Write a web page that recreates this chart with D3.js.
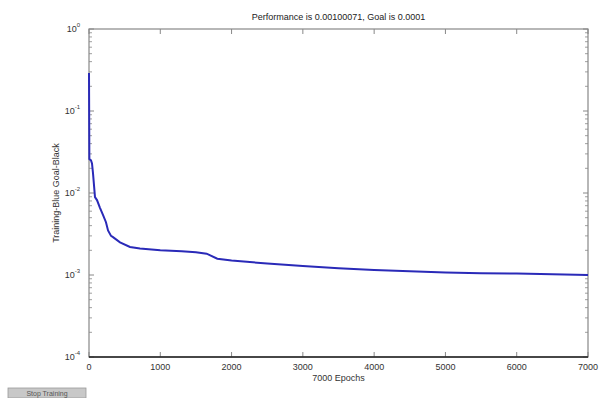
<!DOCTYPE html>
<html>
<head>
<meta charset="utf-8">
<script src="https://cdn.jsdelivr.net/npm/d3@7"></script>
<style>
  body { margin: 0; background: #fff; }
  svg { font-family: "Liberation Sans", Arial, sans-serif; }
</style>
</head>
<body>
<div id="chart"></div>
<script>
// training record
const epochs = [0, 5, 28, 42, 56, 84, 112, 154, 196, 238, 267, 309, 337, 435, 575, 715, 1000, 1300, 1500, 1650, 1800, 2000, 2500, 3000, 3500, 4000, 4500, 5000, 5500, 6000, 6500, 7000];
const perf   = [0.29, 0.026, 0.025, 0.023, 0.0175, 0.0089, 0.0082, 0.0066, 0.0054, 0.0044, 0.0035, 0.0030, 0.0029, 0.0025, 0.0022, 0.0021, 0.0020, 0.00195, 0.0019, 0.00182, 0.00158, 0.0015, 0.00138, 0.00129, 0.00121, 0.00115, 0.00111, 0.00107, 0.00105, 0.00104, 0.00102, 0.00100071];
const goal = 0.0001;
const xTicks = [0, 1000, 2000, 3000, 4000, 5000, 6000, 7000];
const yExps = [0, -1, -2, -3, -4];

const W = 600, H = 398;
const margin = { top: 29, right: 12, bottom: 41, left: 89 },
    width = W - margin.left - margin.right,
    height = H - margin.top - margin.bottom;

const svg = d3.select("#chart").append("svg")
    .attr("width", W).attr("height", H);

const g = svg.append("g")
    .attr("transform", `translate(${margin.left},${margin.top})`);

const x = d3.scaleLinear().domain([0, 7000]).range([0, width]);
const y = d3.scaleLog().domain([1e-4, 1]).range([height, 0]);

// minor log ticks on left & right
const minor = [];
for (let e = -4; e < 0; e++) for (let k = 2; k <= 9; k++) minor.push(k * Math.pow(10, e));

const axisColor = "#888";
[0, width].forEach(function(xx, i) {
  g.selectAll(null).data(minor).join("line")
    .attr("x1", xx).attr("x2", i ? xx - 3 : xx + 3)
    .attr("y1", d => y(d)).attr("y2", d => y(d))
    .attr("stroke", axisColor).attr("stroke-width", 0.8);
  g.selectAll(null).data(yExps).join("line")
    .attr("x1", xx).attr("x2", i ? xx - 5 : xx + 5)
    .attr("y1", d => y(Math.pow(10, d))).attr("y2", d => y(Math.pow(10, d)))
    .attr("stroke", axisColor);
});
[0, height].forEach(function(yy, i) {
  g.selectAll(null).data(xTicks).join("line")
    .attr("x1", d => x(d)).attr("x2", d => x(d))
    .attr("y1", yy).attr("y2", i ? yy - 5 : yy + 5)
    .attr("stroke", axisColor);
});

// box
g.append("rect").attr("width", width).attr("height", height)
  .attr("fill", "none").attr("stroke", axisColor).attr("stroke-width", 1.2);

// goal line (black)
g.append("line").attr("x1", 0).attr("x2", width)
  .attr("y1", y(goal)).attr("y2", y(goal))
  .attr("stroke", "#222").attr("stroke-width", 1.6);

// training curve
const line = d3.line().x((d, i) => x(epochs[i])).y(d => y(d));
g.append("path").datum(perf)
  .attr("d", line)
  .attr("fill", "none")
  .attr("stroke", "#2a2ab8")
  .attr("stroke-width", 2);

// y tick labels 10^e
const yl = g.selectAll(null).data(yExps).join("text")
  .attr("x", -9).attr("y", d => y(Math.pow(10, d)) + 3)
  .attr("text-anchor", "end")
  .attr("font-size", 9).attr("fill", "#333");
yl.append("tspan").text("10");
yl.append("tspan").attr("dy", -5).attr("font-size", 6).text(d => d);

// x tick labels
g.selectAll(null).data(xTicks).join("text")
  .attr("x", d => x(d)).attr("y", height + 13)
  .attr("text-anchor", "middle")
  .attr("font-size", 9).attr("fill", "#333")
  .text(d => d);

// labels
svg.append("text").attr("x", margin.left + width / 2).attr("y", 20)
  .attr("text-anchor", "middle").attr("font-size", 9).attr("fill", "#222")
  .text("Performance is 0.00100071, Goal is 0.0001");
svg.append("text").attr("x", margin.left + width / 2).attr("y", 381)
  .attr("text-anchor", "middle").attr("font-size", 9).attr("fill", "#333")
  .text("7000 Epochs");
svg.append("text")
  .attr("transform", `translate(59,${margin.top + height / 2}) rotate(-90)`)
  .attr("text-anchor", "middle").attr("font-size", 9).attr("fill", "#333")
  .text("Training-Blue  Goal-Black");

// stop training button
const b = svg.append("g").attr("transform", "translate(8,388)");
b.append("rect").attr("width", 78).attr("height", 10).attr("fill", "#c8c8c8")
  .attr("stroke", "#999").attr("stroke-width", 0.8);
b.append("text").attr("x", 39).attr("y", 8).attr("text-anchor", "middle")
  .attr("font-size", 7).attr("fill", "#555").text("Stop Training");
</script>
</body>
</html>
